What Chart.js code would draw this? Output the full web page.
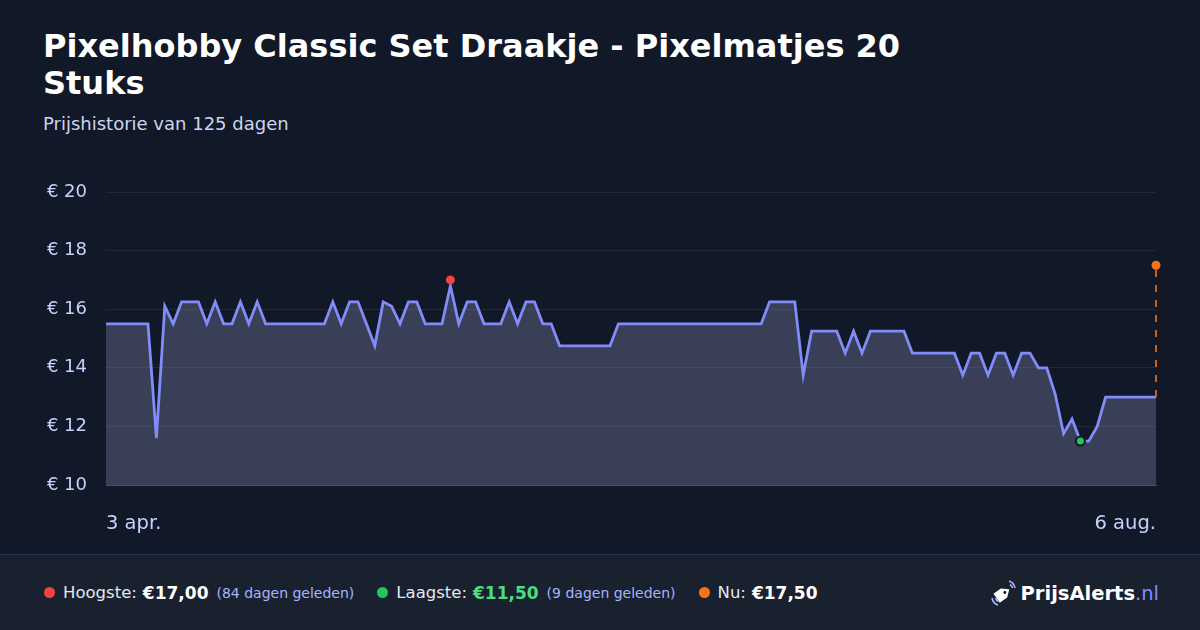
<!DOCTYPE html>
<html lang="nl">
<head>
<meta charset="utf-8">
<script src="https://cdn.jsdelivr.net/npm/chart.js@4.4.1/dist/chart.umd.min.js"></script>
<style>
  html, body { margin: 0; padding: 0; }
  body {
    width: 1200px; height: 630px; overflow: hidden; position: relative;
    background: #111827; font-family: "DejaVu Sans", sans-serif; color: #fff;
  }
  #title {
    position: absolute; left: 43px; top: 28px; margin: 0;
    font-size: 32px; font-weight: bold; line-height: 37.4px; color: #fff;
  }
  #subtitle {
    position: absolute; left: 43px; top: 114px; margin: 0;
    font-size: 18px; line-height: 20px; color: #cdd5f0;
  }
  #chart-wrap { position: absolute; left: 0; top: 150px; width: 1200px; height: 400px; }
  #footer {
    position: absolute; left: 0; top: 554px; width: 1200px; height: 76px;
    background: #19212f; border-top: 1px solid #283252; box-sizing: border-box;
    display: flex; align-items: center; padding-left: 43px;
  }
  .stat { display: flex; align-items: center; margin-right: 22px; white-space: nowrap; }
  .dot { width: 11px; height: 11px; border-radius: 50%; margin-right: 8px; margin-left: 1px; }
  .lbl { font-size: 16.5px; color: #e2e8f0; }
  .val { font-size: 17px; font-weight: bold; color: #fff; margin-left: 6px; }
  .ago { font-size: 14px; color: #a5b4fc; margin-left: 8px; }
  #logo {
    position: absolute; right: 41px; top: 0; height: 76px;
    display: flex; align-items: center;
  }
  #logo .name { font-size: 19.5px; font-weight: bold; color: #fff; }
  #logo .tld { font-size: 19.5px; color: #818cf8; }
</style>
</head>
<body>
<h1 id="title">Pixelhobby Classic Set Draakje - Pixelmatjes 20<br>Stuks</h1>
<p id="subtitle">Prijshistorie van 125 dagen</p>
<div id="chart-wrap"><canvas id="price-chart" width="1200" height="400"></canvas></div>
<div id="footer">
  <div class="stat"><span class="dot" style="background:#ef4444"></span><span class="lbl">Hoogste:</span><span class="val">€17,00</span><span class="ago">(84 dagen geleden)</span></div>
  <div class="stat"><span class="dot" style="background:#22c55e"></span><span class="lbl">Laagste:</span><span class="val" style="color:#4ade80">€11,50</span><span class="ago">(9 dagen geleden)</span></div>
  <div class="stat"><span class="dot" style="background:#f97316"></span><span class="lbl">Nu:</span><span class="val">€17,50</span></div>
  <div id="logo">
    <svg width="30" height="30" viewBox="0 0 30 30" style="margin-right:2px">
      <g transform="rotate(-35 15 15)">
        <path d="M6 9.5 L15 9.5 L21.5 15 L15 20.5 L6 20.5 Z" fill="#fff"/>
        <circle cx="16" cy="15" r="1.5" fill="#19212f"/>
      </g>
      <path d="M20 3 A9 9 0 0 1 26 10" stroke="#a5b4fc" stroke-width="1.6" fill="none"/>
      <path d="M21 6.5 A5 5 0 0 1 23.5 10" stroke="#a5b4fc" stroke-width="1.6" fill="none"/>
      <path d="M3 20 A9 9 0 0 0 9 27" stroke="#a5b4fc" stroke-width="1.6" fill="none"/>
      <path d="M6.5 20 A5 5 0 0 0 9.5 23.5" stroke="#a5b4fc" stroke-width="1.6" fill="none"/>
    </svg>
    <span class="name">PrijsAlerts</span><span class="tld">.nl</span>
  </div>
</div>
<script>
// prijs per dag, dag 0 = 3 apr., dag 125 = 6 aug.
const prices = [
  15.5, 15.5, 15.5, 15.5, 15.5, 15.5, 11.6, 16.1, 15.5, 16.25,
  16.25, 16.25, 15.5, 16.25, 15.5, 15.5, 16.25, 15.5, 16.25, 15.5,
  15.5, 15.5, 15.5, 15.5, 15.5, 15.5, 15.5, 16.25, 15.5, 16.25,
  16.25, 15.5, 14.75, 16.25, 16.1, 15.5, 16.25, 16.25, 15.5, 15.5,
  15.5, 16.8, 15.5, 16.25, 16.25, 15.5, 15.5, 15.5, 16.25, 15.5,
  16.25, 16.25, 15.5, 15.5, 14.75, 14.75, 14.75, 14.75, 14.75, 14.75,
  14.75, 15.5, 15.5, 15.5, 15.5, 15.5, 15.5, 15.5, 15.5, 15.5,
  15.5, 15.5, 15.5, 15.5, 15.5, 15.5, 15.5, 15.5, 15.5, 16.25,
  16.25, 16.25, 16.25, 13.75, 15.25, 15.25, 15.25, 15.25, 14.5, 15.25,
  14.5, 15.25, 15.25, 15.25, 15.25, 15.25, 14.5, 14.5, 14.5, 14.5,
  14.5, 14.5, 13.75, 14.5, 14.5, 13.75, 14.5, 14.5, 13.75, 14.5,
  14.5, 14.0, 14.0, 13.1, 11.75, 12.25, 11.5, 11.5, 12.0, 13.0,
  13.0, 13.0, 13.0, 13.0, 13.0, 13.0
];
const days = prices.map((p, i) => i);
const tickLabels = ["3 apr.", "6 aug."];
const yTicks = [10, 12, 14, 16, 18, 20];

// markers: hoogste, laagste, nu
const highDay = 41, highPrice = 17.0;
const lowDay = 116, lowPrice = 11.5;
const nowDay = 125, nowPrice = 17.5;
const lastPrice = prices[prices.length - 1];

const canvas = document.getElementById("price-chart");

new Chart(canvas, {
  type: "line",
  data: {
    datasets: [
      {
        data: [{ x: highDay, y: highPrice }],
        pointRadius: 4.5, pointBackgroundColor: "#ef4444", pointBorderWidth: 0,
        showLine: false, order: 0, clip: 10,
      },
      {
        data: [{ x: lowDay, y: lowPrice }],
        pointRadius: 4.5, pointBackgroundColor: "#22c55e",
        pointBorderColor: "#111827", pointBorderWidth: 2,
        showLine: false, order: 0, clip: 10,
      },
      {
        data: [{ x: nowDay, y: nowPrice }],
        pointRadius: 4.5, pointBackgroundColor: "#f97316", pointBorderWidth: 0,
        showLine: false, order: 0, clip: 10,
      },
      {
        data: [{ x: nowDay, y: lastPrice }, { x: nowDay, y: nowPrice }],
        borderColor: "rgba(234,108,25,0.85)", borderWidth: 2, borderDash: [7, 8],
        pointRadius: 0, fill: false, order: 1, clip: 10,
      },
      {
        data: days.map((d, i) => ({ x: d, y: prices[i] })),
        borderColor: "#818cf8", borderWidth: 2.8,
        backgroundColor: "rgba(148,155,200,0.3)",
        fill: "start", pointRadius: 0, tension: 0, order: 2,
      },
    ],
  },
  options: {
    responsive: false,
    animation: false,
    layout: { padding: { top: 42, right: 44, left: 0, bottom: 0 } },
    plugins: { legend: { display: false }, tooltip: { enabled: false } },
    scales: {
      x: {
        type: "linear",
        min: 0,
        max: days[days.length - 1],
        afterFit: (scale) => { scale.height = 65; },
        afterBuildTicks: (scale) => {
          scale.ticks = [{ value: days[0] }, { value: days[days.length - 1] }];
        },
        grid: { display: false, drawTicks: false },
        border: { display: true, color: "rgba(148,163,184,0.35)", width: 1 },
        ticks: {
          align: "inner",
          maxRotation: 0,
          autoSkip: false,
          padding: 27,
          color: "#c7d2fe",
          font: { family: "DejaVu Sans", size: 19.5 },
          callback: (v, i) => tickLabels[i],
        },
      },
      y: {
        min: yTicks[0],
        max: yTicks[yTicks.length - 1],
        afterFit: (scale) => { scale.width = 106; },
        afterBuildTicks: (scale) => {
          scale.ticks = yTicks.map((v) => ({ value: v }));
        },
        grid: { color: "rgba(255,255,255,0.07)", drawTicks: false },
        border: { display: false },
        ticks: {
          padding: 19,
          color: "#c7d2fe",
          font: { family: "DejaVu Sans", size: 18 },
          callback: (v) => "€ " + v,
        },
      },
    },
  },
});
</script>
</body>
</html>
